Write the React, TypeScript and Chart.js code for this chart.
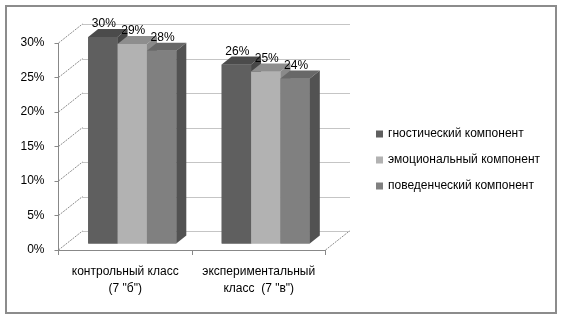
import React, { useEffect, useRef } from "react";
import { Chart, registerables } from "chart.js";

Chart.register(...registerables);

const categories: string[][] = [
  ["контрольный класс", '(7 "б")'],
  ["экспериментальный", 'класс  (7 "в")'],
];
const seriesNames = ["гностический компонент", "эмоциональный компонент", "поведенческий компонент"];
const gnostic = [30, 26];
const emotional = [29, 25];
const behavioral = [28, 24];
const yTicks = [0, 5, 10, 15, 20, 25, 30];

const frontColors = ["#5f5f5f", "#b2b2b2", "#808080"];
const topColors = ["#4b4b4b", "#8e8e8e", "#686868"];
const sideColors = ["#474747", "#8a8a8a", "#525252"];

const FONT = "'Liberation Sans', Arial, sans-serif";
const DX = 7, DY = -6; // bar plane offset from front plane
const BX = 24, BY = -19; // back wall offset
const DEPTH_X = 10, DEPTH_Y = -8; // bar depth

const threeD = {
  id: "threeD",
  beforeDatasetsDraw(chart: any) {
    const ctx = chart.ctx;
    const { left, right } = chart.chartArea;
    const y = chart.scales.y;
    ctx.save();
    ctx.strokeStyle = "#8a8a8a";
    ctx.lineWidth = 1;
    yTicks.forEach((v) => {
      const py = Math.round(y.getPixelForValue(v) + BY) + 0.5;
      ctx.setLineDash([1, 1]);
      ctx.beginPath();
      ctx.moveTo(left + BX, py);
      ctx.lineTo(right + BX, py);
      ctx.stroke();
      ctx.setLineDash([2, 1]);
      ctx.beginPath();
      ctx.moveTo(left, y.getPixelForValue(v));
      ctx.lineTo(left + BX, y.getPixelForValue(v) + BY);
      ctx.stroke();
    });
    ctx.setLineDash([2, 1]);
    ctx.beginPath();
    ctx.moveTo(right, y.getPixelForValue(0));
    ctx.lineTo(right + BX, y.getPixelForValue(0) + BY);
    ctx.stroke();
    ctx.restore();
    ctx.save();
    ctx.translate(DX, DY);
  },
  afterDatasetsDraw(chart: any) {
    const ctx = chart.ctx;
    const n = chart.data.labels.length;
    const metas = chart.data.datasets.map((_: any, i: number) => chart.getDatasetMeta(i));
    for (let j = 0; j < n; j++) {
      metas.forEach((meta: any, i: number) => {
        const el = meta.data[j];
        const { x, y, base, width } = el.getProps(["x", "y", "base", "width"], true);
        const x0 = x - width / 2, x1 = x + width / 2;
        ctx.fillStyle = frontColors[i];
        ctx.fillRect(x0, y, width, base - y);
        ctx.fillStyle = topColors[i];
        ctx.beginPath();
        ctx.moveTo(x0, y);
        ctx.lineTo(x0 + DEPTH_X, y + DEPTH_Y);
        ctx.lineTo(x1 + DEPTH_X, y + DEPTH_Y);
        ctx.lineTo(x1, y);
        ctx.closePath();
        ctx.fill();
        ctx.fillStyle = sideColors[i];
        ctx.beginPath();
        ctx.moveTo(x1, y);
        ctx.lineTo(x1 + DEPTH_X, y + DEPTH_Y);
        ctx.lineTo(x1 + DEPTH_X, base + DEPTH_Y);
        ctx.lineTo(x1, base);
        ctx.closePath();
        ctx.fill();
      });
    }
    ctx.fillStyle = "#000";
    ctx.font = `12px ${FONT}`;
    ctx.textAlign = "center";
    ctx.textBaseline = "middle";
    metas.forEach((meta: any, i: number) => {
      meta.data.forEach((el: any, j: number) => {
        const { x, y } = el.getProps(["x", "y"], true);
        const v = chart.data.datasets[i].data[j];
        ctx.fillText(`${v}%`, x + 1, y - 13);
      });
    });
    ctx.restore();
  },
  afterDraw(chart: any) {
    const ctx = chart.ctx;
    ctx.save();
    ctx.font = `12px ${FONT}`;
    ctx.textBaseline = "middle";
    ctx.textAlign = "left";
    chart.data.datasets.forEach((ds: any, i: number) => {
      const cy = 134 + 26 * i;
      ctx.fillStyle = frontColors[i];
      ctx.fillRect(376, cy - 3.5, 7, 7);
      ctx.fillStyle = "#000";
      ctx.fillText(ds.label, 388, cy);
    });
    ctx.strokeStyle = "#8c8c8c";
    ctx.lineWidth = 2;
    ctx.strokeRect(6, 6, 550, 307);
    ctx.restore();
  },
};

export default function App() {
  const ref = useRef<HTMLCanvasElement>(null);
  useEffect(() => {
    if (!ref.current) return;
    const chart = new Chart(ref.current, {
      type: "bar",
      data: {
        labels: categories,
        datasets: [
          { label: seriesNames[0], data: gnostic, backgroundColor: frontColors[0] },
          { label: seriesNames[1], data: emotional, backgroundColor: frontColors[1] },
          { label: seriesNames[2], data: behavioral, backgroundColor: frontColors[2] },
        ],
      },
      options: {
        animation: false,
        responsive: false,
        devicePixelRatio: 1,
        layout: { padding: { top: 43, right: 237.5, left: 0, bottom: 0 } },
        datasets: { bar: { categoryPercentage: 0.66, barPercentage: 1, clip: false } as any },
        plugins: { legend: { display: false }, tooltip: { enabled: false } },
        scales: {
          x: {
            grid: { offset: true, drawOnChartArea: false, tickLength: 5, color: "#888" },
            border: { color: "#888" },
            ticks: { color: "#000", font: { family: FONT, size: 12, lineHeight: 1.35 }, padding: 9, maxRotation: 0 },
            afterFit: (s: any) => { s.height = 68; },
          },
          y: {
            min: 0,
            max: 30,
            ticks: { stepSize: 5, color: "#000", font: { family: FONT, size: 12 }, padding: 10, callback: (v: any) => `${v}%` },
            grid: { drawOnChartArea: false, tickLength: 4, color: "#888" },
            border: { color: "#888" },
            afterFit: (s: any) => { s.width = 58.5; },
          },
        },
      },
      plugins: [threeD],
    });
    return () => chart.destroy();
  }, []);
  return (
    <div style={{ position: "fixed", left: 0, top: 0, width: 563, height: 318, background: "#fff" }}>
      <canvas ref={ref} width={563} height={318} />
    </div>
  );
}
